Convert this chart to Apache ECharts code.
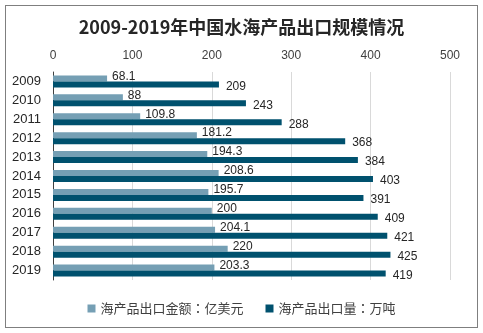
<!DOCTYPE html>
<html><head><meta charset="utf-8">
<script src="https://cdn.jsdelivr.net/npm/echarts@6/dist/echarts.min.js"></script>
<style>html,body{margin:0;padding:0;background:#fff}#c{width:483px;height:333px}
#frame{position:absolute;left:5px;top:5px;width:471px;height:321px;border:1px solid #7f7f7f;pointer-events:none}</style>
</head><body><div id="c"></div><div id="frame"></div>
<script>
const years = ['2009','2010','2011','2012','2013','2014','2015','2016','2017','2018','2019'];
const exportValue = [68.1, 88, 109.8, 181.2, 194.3, 208.6, 195.7, 200, 204.1, 220, 203.3];
const exportVolume = [209, 243, 288, 368, 384, 403, 391, 409, 421, 425, 419];
const seriesNames = ['海产品出口金额：亿美元', '海产品出口量：万吨'];
const titleText = '2009-2019年中国水海产品出口规模情况';

const chart = echarts.init(document.getElementById('c'));
chart.setOption({
  animation: false,
  title: { text: titleText, left: 'center', top: 13,
    textStyle: { fontFamily: 'Noto Sans CJK SC', fontSize: 18, fontWeight: 'bold', color: '#262626' } },
  legend: { bottom: 13, left: 'center', itemWidth: 8, itemHeight: 8, itemGap: 22,
    icon: 'rect',
    textStyle: { fontFamily: 'Noto Sans CJK TC', fontSize: 13, color: '#404040' } },
  grid: { left: 53, right: 33, top: 72, bottom: 53 },
  xAxis: { type: 'value', position: 'top', min: 0, max: 500, interval: 100,
    axisLine: { show: false }, axisTick: { show: false },
    axisLabel: { fontFamily: 'Liberation Sans', fontSize: 12, color: '#404040', margin: 10 },
    splitLine: { lineStyle: { color: '#d9d9d9' } } },
  yAxis: { type: 'category', data: years, inverse: true,
    axisLine: { lineStyle: { color: '#404040' } }, axisTick: { show: false },
    axisLabel: { fontFamily: 'Liberation Sans', fontSize: 13, color: '#262626', margin: 12 } },
  series: [
    { name: seriesNames[0], type: 'bar', data: exportValue, barWidth: 6, barGap: '0%',
      itemStyle: { color: '#759fb4' },
      label: { show: true, position: 'right', offset: [0, -2], fontFamily: 'Liberation Sans', fontSize: 12, color: '#262626' } },
    { name: seriesNames[1], type: 'bar', data: exportVolume, barWidth: 6,
      itemStyle: { color: '#00516e' },
      label: { show: true, position: 'right', offset: [2, 2], fontFamily: 'Liberation Sans', fontSize: 12, color: '#262626' } }
  ]
});
</script></body></html>
